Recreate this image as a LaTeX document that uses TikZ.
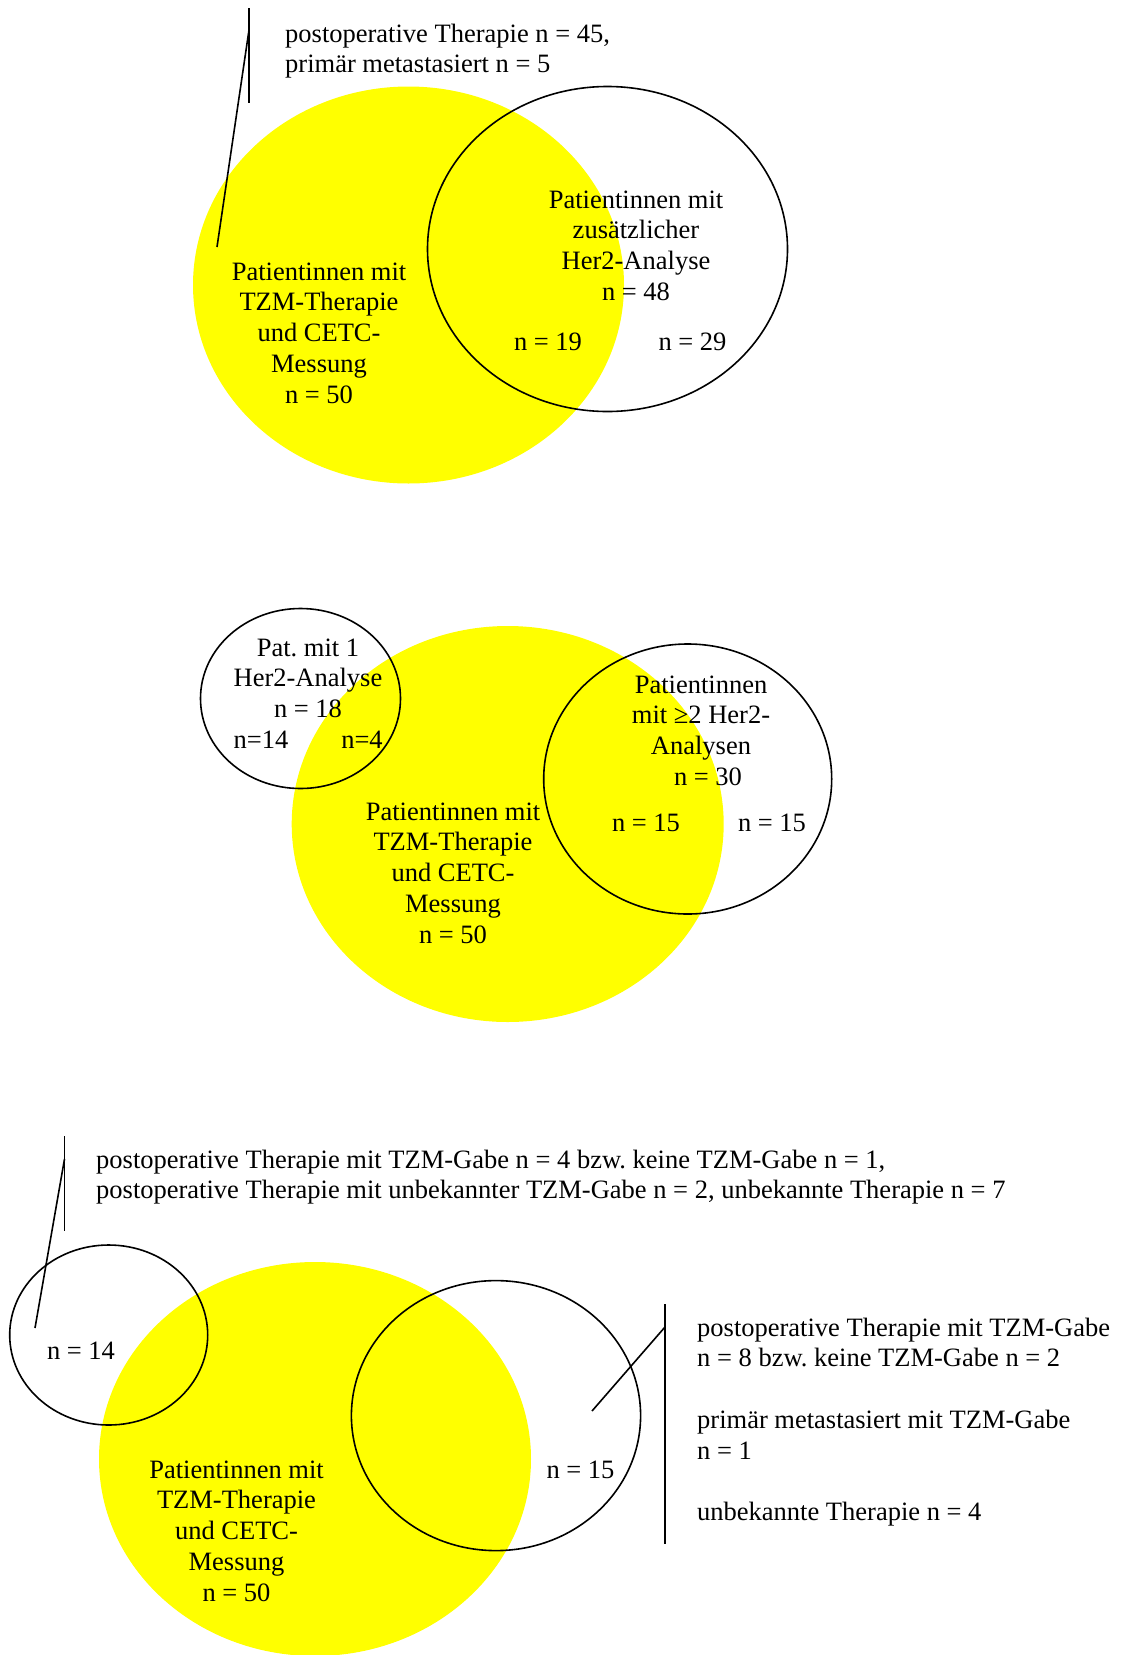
\documentclass[tikz,border=0pt]{standalone}
\usepackage{fontspec}
\setmainfont{Liberation Serif}
\definecolor{vennyellow}{RGB}{255,255,0}
\frenchspacing
\begin{document}
\begin{tikzpicture}[x=1pt,y=-1pt,
  txt/.style={inner sep=0pt,font=\fontsize{26.5}{30.8}\selectfont\frenchspacing},
  ctxt/.style={txt,align=center,anchor=base},
  ltxt/.style={txt,align=left,anchor=base west},
  setline/.style={line width=1.6pt,black},
  yell/.style={fill=vennyellow,draw=none}]
\useasboundingbox (0,0) rectangle (1120,1655);
% multi-line nodes: anchor "base" is the baseline of the LAST line
% ---------- top ----------
\fill[yell] (408.5,285) ellipse [x radius=215.5,y radius=198.5];
\draw[setline] (607.5,249) ellipse [x radius=180,y radius=162.5];
\coordinate (t1a) at (249,8);
\coordinate (t1b) at (249,103);
\coordinate (t1c) at (249,30);
\coordinate (t1d) at (217,247);
\draw[setline] (t1a) -- (t1b);
\draw[setline] (t1c) -- (t1d);
\node[ltxt] (tann) at (285,72.8) {postoperative Therapie n = 45,\\primär metastasiert n = 5};
\node[ctxt] (ther) at (636,300.4) {Patientinnen mit\\zusätzlicher\\Her2-Analyse\\n = 48};
\node[ctxt] (tyel) at (319,403.2) {Patientinnen mit\\TZM-Therapie\\und CETC-\\Messung\\n = 50};
\node[ctxt] (t19) at (548,350) {n = 19};
\node[ctxt] (t29) at (692.5,350) {n = 29};
% ---------- middle ----------
\fill[yell] (507.7,824) ellipse [x radius=216,y radius=198];
\draw[setline] (300.5,698.5) ellipse [x radius=100,y radius=90];
\draw[setline] (687.7,779) ellipse [x radius=144,y radius=135];
\node[ctxt] (mone) at (308,717.6) {Pat. mit 1\\Her2-Analyse\\n = 18};
\node[ctxt] (m14) at (261,748) {n=14};
\node[ctxt] (m4) at (362,748) {n=4};
\node[ctxt] (mtwo) at (701,785.4) {Patientinnen\\mit ≥2 Her2-\\Analysen\\\hspace*{14pt}n = 30};
\node[ctxt] (m15a) at (646,831) {n = 15};
\node[ctxt] (m15b) at (772,831) {n = 15};
\node[ctxt] (myel) at (453,943.2) {Patientinnen mit\\TZM-Therapie\\und CETC-\\Messung\\n = 50};
% ---------- bottom ----------
\fill[yell] (315,1459) ellipse [x radius=216,y radius=197];
\draw[setline] (108.7,1335) ellipse [x radius=99,y radius=90];
\draw[setline] (496,1415.6) ellipse [x radius=144.6,y radius=135];
\coordinate (b1a) at (64.5,1136);
\coordinate (b1b) at (64.5,1231);
\coordinate (b1c) at (64.5,1159);
\coordinate (b1d) at (35,1328);
\draw[setline] (b1a) -- (b1b);
\draw[setline] (b1c) -- (b1d);
\coordinate (b2a) at (665,1304);
\coordinate (b2b) at (665,1544);
\coordinate (b2c) at (665,1327);
\coordinate (b2d) at (592,1411);
\draw[setline] (b2a) -- (b2b);
\draw[setline] (b2c) -- (b2d);
\node[ltxt] (bann) at (96,1198.8) {postoperative Therapie mit TZM-Gabe n = 4 bzw. keine TZM-Gabe n = 1,\\postoperative Therapie mit unbekannter TZM-Gabe n = 2, unbekannte Therapie n = 7};
\node[ctxt] (b14) at (81,1359) {n = 14};
\node[ctxt] (b15) at (580.5,1478) {n = 15};
\node[ctxt] (byel) at (236.5,1601.2) {Patientinnen mit\\TZM-Therapie\\und CETC-\\Messung\\n = 50};
\node[ltxt] (bright) at (697,1520.8) {postoperative Therapie mit TZM-Gabe\\n = 8 bzw. keine TZM-Gabe n = 2\\[30.8pt]primär metastasiert mit TZM-Gabe\\n = 1\\[30.8pt]unbekannte Therapie n = 4};
\end{tikzpicture}
\end{document}
